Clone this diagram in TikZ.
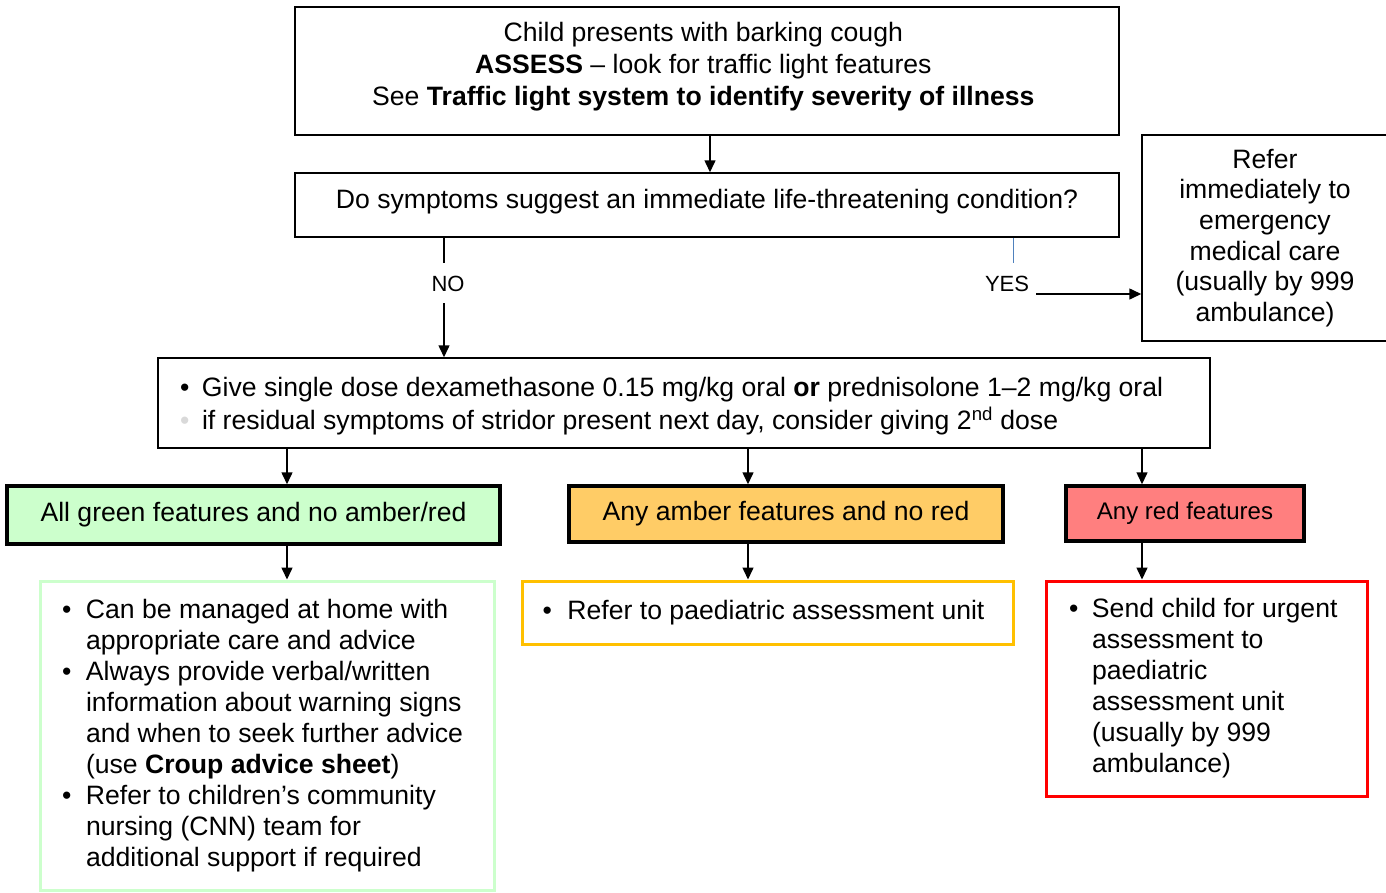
\documentclass[tikz,border=0pt]{standalone}
\usepackage{fontspec}
\setmainfont{Liberation Sans}
\usetikzlibrary{arrows.meta, positioning}

\definecolor{greenfill}{HTML}{CCFFCC}
\definecolor{amberfill}{HTML}{FFCC66}
\definecolor{redfill}{HTML}{FF7F7F}
\definecolor{amberline}{HTML}{FFC000}
\definecolor{redline}{HTML}{FF0000}
\definecolor{yesblue}{HTML}{4F81BD}

% bullet line with hanging indent
\newcommand{\bul}[2][22pt]{\par\hangindent=#1\hangafter=1\noindent
  \makebox[#1][l]{\textbullet}#2}
% raise node text a little without changing its box
\newcommand{\lift}[2]{\raisebox{#1}[\height][\depth]{#2}}

\begin{document}
\begin{tikzpicture}[
    x=1pt, y=-1pt,
    font=\fontsize{26.6}{31}\selectfont,
    plainbox/.style={draw=black, line width=1.5pt, align=center,
                     inner sep=0pt},
    featbox/.style={draw=black, line width=3.5pt, align=center,
                    inner sep=0pt},
    infobox/.style={line width=3pt, fill=white, align=left, inner sep=0pt},
    arrow/.style={-{Triangle[length=12pt,width=11pt]}, line width=1.5pt},
    link/.style={line width=1.5pt},
]
\useasboundingbox (0,0) rectangle (1386,892);

% --- Row 1: assessment and question ---
\node[plainbox, minimum width=824, minimum height=128] (assess) at (707,71) {
    \lift{4pt}{\begin{tabular}{@{}c@{}}
    Child presents with barking cough\\[1pt]
    \textbf{ASSESS} -- look for traffic light features\\[1pt]
    See \textbf{Traffic light system to identify severity of illness}
    \end{tabular}}
};

\node[plainbox, minimum width=824, minimum height=64] (question) at (707,205)
    {\lift{3pt}{Do symptoms suggest an immediate life-threatening condition?}};

\node[plainbox, minimum width=246, minimum height=206,
      font=\fontsize{26.6}{30.6}\selectfont] (refer) at (1265,238) {
    Refer\\immediately to\\emergency\\medical care\\(usually by 999\\ambulance)
};

% --- Row 2: treatment ---
\node[plainbox, minimum width=1052, minimum height=90, align=left,
      font=\fontsize{26.6}{33}\selectfont] (dose) at (684,403) {%
    \lift{-3pt}{\parbox{1008pt}{%
    \bul[22pt]{Give single dose dexamethasone 0.15 mg/kg oral \textbf{or}
      prednisolone 1--2 mg/kg oral}
    \par\hangindent=22pt\hangafter=1\noindent
    \makebox[22pt][l]{\textcolor{black!15}{\textbullet}}if residual symptoms
    of stridor present next day, consider giving 2\textsuperscript{nd} dose}}%
};

% --- Row 3: traffic light features ---
\node[featbox, fill=greenfill, minimum width=493, minimum height=58] (green)
    at (253.5,515) {All green features and no amber/red};
\node[featbox, fill=amberfill, minimum width=434, minimum height=56] (amber)
    at (786,514) {Any amber features and no red};
\node[featbox, fill=redfill, minimum width=238, minimum height=55,
      font=\fontsize{24}{28}\selectfont] (red)
    at (1185,513.5) {Any red features};

% --- Row 4: actions ---
\node[infobox, draw=greenfill, minimum width=454, minimum height=309]
    (greeninfo) at (267,735.5) {\begin{minipage}{410pt}
    \bul[24pt]{Can be managed at home with\\appropriate care and advice}
    \bul[24pt]{Always provide verbal/written\\information about warning signs\\
      and when to seek further advice\\(use \textbf{Croup advice sheet})}
    \bul[24pt]{Refer to children’s community\\nursing (CNN) team for\\
      additional support if required}
\end{minipage}};

\node[infobox, draw=amberline, minimum width=491, minimum height=63]
    (amberinfo) at (767.5,612.5) {\begin{minipage}{450pt}
    \bul[25pt]{Refer to paediatric assessment unit}
\end{minipage}};

\node[infobox, draw=redline, minimum width=321, minimum height=215]
    (redinfo) at (1206.5,688.5) {\begin{minipage}{275pt}
    \bul[23pt]{Send child for urgent\\assessment to\\paediatric\\
      assessment unit\\(usually by 999\\ambulance)}
\end{minipage}};

% --- branch labels and helper points ---
\node (no) at (448,284) {\fontsize{22}{26}\selectfont NO};
\node (yes) at (1007,284) {\fontsize{22}{26}\selectfont YES};
\coordinate (nox) at (444,0);
\coordinate (yesx) at (1013,0);
\coordinate (yesout) at (1036,294);
\coordinate (gx) at (287,0);
\coordinate (ax) at (748,0);
\coordinate (rx) at (1142,0);

% --- connectors ---
\draw[arrow] ([xshift=3pt]assess.south) -- ([xshift=3pt]question.north);
\draw[link] (question.south -| nox) -- ++(0,25);
\draw[arrow] (no.south -| nox) ++(0,8) -- (dose.north -| nox);
\draw[draw=yesblue, line width=1pt] (question.south -| yesx) -- ++(0,25);
\draw[arrow] (yesout) -- (yesout -| refer.west);

\draw[arrow] (dose.south -| gx) -- (green.north -| gx);
\draw[arrow] (dose.south -| ax) -- (amber.north -| ax);
\draw[arrow] (dose.south -| rx) -- (red.north -| rx);

\draw[arrow] (green.south -| gx) -- (greeninfo.north -| gx);
\draw[arrow] (amber.south -| ax) -- (amberinfo.north -| ax);
\draw[arrow] (red.south -| rx) -- (redinfo.north -| rx);

\end{tikzpicture}
\end{document}
